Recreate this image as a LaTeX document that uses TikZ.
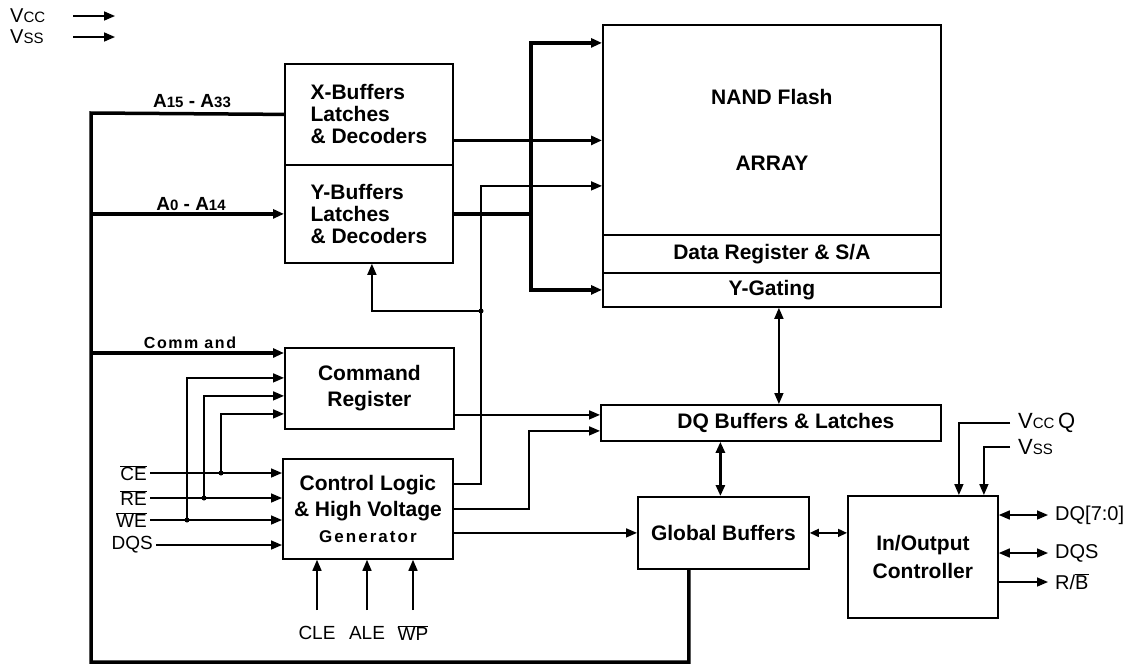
\documentclass[tikz,border=0pt]{standalone}
\usepackage{fontspec}
\setmainfont{Liberation Sans}
\usetikzlibrary{arrows.meta}
\newcommand{\sigbar}[1]{$\overline{\mbox{#1}}$}
\newcommand{\lowtext}[2]{{\fontsize{#1}{#1}\selectfont #2}}
\begin{document}
\begin{tikzpicture}[x=1pt, y=-1pt,
  blk/.style={draw, line width=1.8pt, inner sep=0pt, align=center,
    font=\fontsize{21}{26}\selectfont\bfseries},
  sig/.style={inner sep=3pt, font=\fontsize{19}{22}\selectfont},
  bus/.style={line width=3.5pt},
  wire/.style={line width=1.6pt},
  fwd/.style={-{Triangle[length=11pt,width=9pt]}},
  bidi/.style={{Triangle[length=11pt,width=9pt]}-{Triangle[length=11pt,width=9pt]}}]
  \useasboundingbox (0,0) rectangle (1133,670);
  % blocks, placed by their top left corner (pixels of the sheet)
  \node[blk, anchor=north west, minimum width=168pt, minimum height=101pt, align=left,
    font=\fontsize{21}{22}\selectfont\bfseries] (xbuf) at (284,63) {X-Buffers\\Latches\\\& Decoders};
  \node[blk, anchor=north west, minimum width=168pt, minimum height=98pt, align=left,
    font=\fontsize{21}{22}\selectfont\bfseries] (ybuf) at (284,164) {Y-Buffers\\Latches\\\& Decoders};
  \node[blk, anchor=north west, minimum width=338pt, minimum height=210pt] (arr) at (602,24) {NAND Flash\\[40pt]ARRAY};
  \node[blk, anchor=north west, minimum width=338pt, minimum height=38pt] (dreg) at (602,234) {\raisebox{3pt}{Data Register \& S/A}};
  \node[blk, anchor=north west, minimum width=338pt, minimum height=34pt] (ygate) at (602,272) {Y-Gating};
  \node[blk, anchor=north west, minimum width=340pt, minimum height=36pt] (dq) at (600,404) {\hspace*{30pt}DQ Buffers \& Latches};
  \node[blk, anchor=north west, minimum width=169pt, minimum height=81pt] (cmd) at (284,347) {Command\\Register};
  \node[blk, anchor=north west, minimum width=170pt, minimum height=100pt] (ctl) at (282,458)
    {Control Logic\\\& High Voltage\\{\fontsize{17}{20}\selectfont\addfontfeature{LetterSpace=12}Generator}};
  \node[blk, anchor=north west, minimum width=171pt, minimum height=72pt] (glob) at (637,496) {Global Buffers};
  \node[blk, anchor=north west, minimum width=150pt, minimum height=122pt, font=\fontsize{21}{28}\selectfont\bfseries] (io) at (847,495) {In/Output\\Controller};

  % texts
  \node[sig, anchor=west, font=\fontsize{20}{22}\selectfont] (vcc) at (7,16) {V\lowtext{15}{CC}};
  \node[sig, anchor=west, font=\fontsize{20}{22}\selectfont] (vss) at (7,37) {V\lowtext{15}{SS}};
  \node[font=\fontsize{19}{22}\selectfont\bfseries] (ahi) at (192,101) {A\lowtext{15}{15} - A\lowtext{15}{33}};
  \node[font=\fontsize{19}{22}\selectfont\bfseries] (alo) at (191,204) {A\lowtext{15}{0} - A\lowtext{15}{14}};
  \node[font=\fontsize{16}{20}\selectfont\bfseries\addfontfeature{LetterSpace=10}] (cmdlab) at (190,343) {Comm and};
  \node[sig, anchor=east] (ce) at (150,473) {\sigbar{CE}};
  \node[sig, anchor=east] (re) at (150,498) {\sigbar{RE}};
  \node[sig, anchor=east] (we) at (150,520) {\sigbar{WE}};
  \node[sig, anchor=east] (dqs) at (156,545) {DQS};
  \node[sig] (cle) at (317,633) {CLE};
  \node[sig] (ale) at (367,633) {ALE};
  \node[sig] (wp) at (413,633) {\sigbar{WP}};
  \node[sig, anchor=west, inner xsep=8pt, font=\fontsize{22}{24}\selectfont] (vccq) at (1010,423) {V\lowtext{15}{CC}\,Q};
  \node[sig, anchor=west, inner xsep=8pt, font=\fontsize{22}{24}\selectfont] (vssr) at (1010,447) {V\lowtext{15}{SS}};
  \node[sig, anchor=west, inner xsep=7pt, font=\fontsize{20}{22}\selectfont] (dqo) at (1048,515) {DQ[7:0]};
  \node[sig, anchor=west, inner xsep=7pt, font=\fontsize{20}{22}\selectfont] (dqso) at (1048,553) {DQS};
  \node[sig, anchor=west, inner xsep=7pt, font=\fontsize{20}{22}\selectfont] (rb) at (1048,582) {R/\sigbar{B}};

  % lanes and ports
  \coordinate (pwr) at (73,0);
  \coordinate (busTop) at (91,113);
  \coordinate (busBot) at (91,662);
  \coordinate (laneA) at (531,0);
  \coordinate (laneB) at (481,0);
  \coordinate (laneC) at (529,0);
  \coordinate (laneWE) at (187,0);
  \coordinate (laneRE) at (204,0);
  \coordinate (laneCE) at (221,0);
  \coordinate (inBase) at (0,610);
  \coordinate (br) at (481,311);
  \coordinate (arrTop) at ([yshift=87pt]arr.west);
  \coordinate (arrMid) at ([yshift=-56pt]arr.west);
  \coordinate (cmdIn) at ([yshift=-6pt]cmd.north west);
  \coordinate (cmdA) at ([yshift=10.5pt]cmd.west);
  \coordinate (cmdB) at ([yshift=-7.5pt]cmd.west);
  \coordinate (cmdC) at ([yshift=-25.5pt]cmd.west);
  \coordinate (dqIn1) at ([yshift=8pt]dq.west);
  \coordinate (dqIn2) at ([yshift=-8pt]dq.west);

  \draw[wire,fwd] (vcc -| pwr) -- ++(42,0);
  \draw[wire,fwd] (vss -| pwr) -- ++(42,0);

  % address / command bus
  \draw[bus] (xbuf.west) -- (busTop) -- (busBot) -| ([xshift=-34.5pt]glob.south);
  \draw[bus,fwd] (busTop |- ybuf.west) -- (ybuf.west);
  \draw[bus,fwd] (busTop |- cmdIn) -- (cmdIn);
  \draw[bus,fwd] ([yshift=-26pt]xbuf.east) -- ([yshift=-26pt]xbuf.east -| arr.west);
  \draw[bus] (ybuf.east) -- (ybuf.east -| laneA);
  \draw[bus,fwd] (ybuf.east -| laneA) |- (arrTop);
  \draw[bus,fwd] (ybuf.east -| laneA) |- (ygate.west);

  % control signals
  \foreach \s in {ce,re,we,dqs}
    \draw[wire,fwd] (\s.east) -- (\s.east -| ctl.west);
  \foreach \s/\l/\t in {we/laneWE/cmdA, re/laneRE/cmdB, ce/laneCE/cmdC} {
    \draw[wire,fwd] (\s.east -| \l) |- (\t);
    \fill (\s.east -| \l) circle (2.5pt);
  }
  \foreach \s in {cle,ale,wp}
    \draw[wire,fwd] (\s |- inBase) -- (\s |- ctl.south);
  \draw[wire,fwd] ([yshift=25pt]ctl.east) -| (laneB |- arrMid) -- (arrMid);
  \draw[wire,fwd] (br) -| ([xshift=3pt]ybuf.south);
  \fill (br) circle (2.5pt);
  \draw[wire,fwd] (ctl.east) -| (laneC |- dqIn2) -- (dqIn2);
  \draw[wire,fwd] (cmd.east |- dqIn1) -- (dqIn1);
  \draw[wire,fwd] (ctl.east |- glob.west) -- (glob.west);

  % data path
  \draw[wire,bidi] ([xshift=7pt]ygate.south) -- ([xshift=7pt]ygate.south |- dq.north);
  \draw[bidi, line width=2.6pt] ([xshift=-3pt]glob.north |- dq.south) -- ([xshift=-3pt]glob.north);
  \draw[wire,{Triangle[length=9pt,width=8pt]}-{Triangle[length=9pt,width=8pt]}] (glob.east) -- (glob.east -| io.west);
  \draw[wire,fwd] (vccq.west) -| ([xshift=36pt]io.north);
  \draw[wire,fwd] (vssr.west) -| ([xshift=61pt]io.north);
  \draw[wire,bidi] (io.east |- dqo.west) -- (dqo.west);
  \draw[wire,bidi] (io.east |- dqso.west) -- (dqso.west);
  \draw[wire,fwd] (io.east |- rb.west) -- (rb.west);
\end{tikzpicture}
\end{document}
